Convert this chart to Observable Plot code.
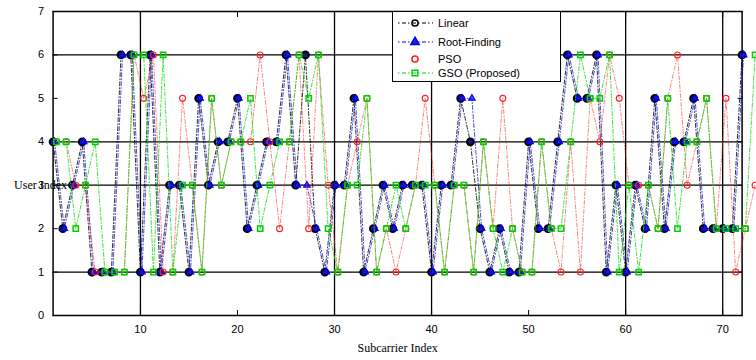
<!DOCTYPE html>
<html><head><meta charset="utf-8">
<script src="https://cdn.jsdelivr.net/npm/d3@7"></script>
<script src="https://cdn.jsdelivr.net/npm/@observablehq/plot@0.6"></script>
<style>
body{margin:0;background:#fff;}
#wrap{position:relative;width:756px;height:360px;}
#legend{position:absolute;left:392px;top:11px;width:169px;height:71px;border:1.5px solid #000;background:#fff;box-sizing:border-box;font-family:"Liberation Sans",Arial,sans-serif;font-size:11px;color:#000;}
</style></head><body><div id="wrap"></div>
<script>
const subcarriers = d3.range(1, 73);
const subcarriersExt = d3.range(1, 74);
const xTicks = [10, 20, 30, 40, 50, 60, 70];
const yTicks = [0, 1, 2, 3, 4, 5, 6, 7];
const xGrid = [10, 30, 40, 60, 70];
const yGrid = [1, 3, 4, 6];
const seriesNames = ["Linear", "Root-Finding", "PSO", "GSO (Proposed)"];

const linear = [4,2,3,4,1,1,1,6,6,1, 6,1,3,3,1,5,3,4,4,5, 2,3,4,4,6,3,6,2,1,3, 3,5,1,2,3,2,3,3,3,1, 3,3,5,4,2,1,2,1,1,4, 2,2,4,6,5,5,6,1,3,1, 3,2,5,2,4,4,5,2,2,2, 2,6];
const rootFinding = [4,2,3,4,1,1,1,6,6,1, 6,1,3,3,1,5,3,4,4,5, 2,3,4,4,6,3,3,2,1,3, 3,5,1,2,3,2,3,3,3,1, 3,3,5,5,2,1,2,1,1,4, 2,2,4,6,5,5,6,1,3,1, 3,2,5,2,4,4,5,2,2,2, 2,6];
const pso = [4,4,3,3,1,1,1,1,6,5, 6,1,1,5,3,1,5,3,4,4, 4,6,4,2,4,6,2,6,3,1, 3,4,5,1,2,1,2,3,5,3, 1,3,3,1,4,2,5,2,1,1, 4,2,1,4,1,5,4,6,5,3, 3,3,2,5,6,3,4,5,2,5, 1,2,3];
const gso = [4,4,2,3,4,1,1,1,6,6, 1,6,1,3,3,1,5,3,4,4, 5,2,3,4,4,6,5,6,2,1, 3,3,5,1,2,3,2,3,3,3, 1,3,3,1,4,2,1,2,1,1, 4,2,2,4,6,5,5,6,1,3, 1,3,2,5,2,4,4,5,2,2, 2,2,6];

const rows = (name, xs, ys) => ys.map((v, i) => ({series: name, k: xs[i], user: v}));
const dLinear = rows(seriesNames[0], subcarriers, linear);
const dRoot = rows(seriesNames[1], subcarriers, rootFinding);
const dPso = rows(seriesNames[2], subcarriersExt, pso);
const dGso = rows(seriesNames[3], subcarriersExt, gso);

const dash = "4,2,1,2";
const chart = Plot.plot({
  width: 756, height: 360,
  marginLeft: 52.6, marginRight: 14.4, marginTop: 11, marginBottom: 45,
  x: {domain: [1, 72]},
  y: {domain: [0, 7]},
  style: {fontFamily: "Liberation Sans, Arial, sans-serif", fontSize: "11px", color: "#000", background: "#fff", overflow: "visible"},
  marks: [
    Plot.ruleX(xGrid, {stroke: "#000", strokeWidth: 1.3}),
    Plot.ruleY(yGrid, {stroke: "#000", strokeWidth: 1.3}),
    Plot.frame({stroke: "#000", strokeWidth: 1.5}),
    Plot.axisX(xTicks, {tickSize: 0, tickPadding: 10, label: null, fill: "#000"}),
    Plot.axisX(xTicks, {tickSize: -5, tickFormat: () => "", label: null}),
    Plot.axisX(xTicks, {anchor: "top", tickSize: -5, tickFormat: () => "", label: null}),
    Plot.axisY(yTicks, {tickSize: 0, tickPadding: 9, label: null, fill: "#000"}),
    Plot.axisY(yTicks, {tickSize: -5, tickFormat: () => "", label: null}),
    Plot.axisY(yTicks, {anchor: "right", tickSize: -5, tickFormat: () => "", label: null}),
    Plot.line(dLinear, {x: "k", y: "user", stroke: "#000", strokeWidth: 1, strokeDasharray: dash, strokeOpacity: 0.8}),
    Plot.dot(dLinear, {x: "k", y: "user", r: 3.4, stroke: "#000", strokeWidth: 2, fill: "#1a1a80"}),
    Plot.line(dRoot, {x: "k", y: "user", dx: 1.5, stroke: "#1010d0", strokeWidth: 1, strokeDasharray: dash, strokeOpacity: 0.75}),
    Plot.dot(dRoot, {x: "k", y: "user", dx: 1.5, symbol: "triangle", r: 2.4, stroke: "#0000ff", strokeWidth: 1.2, fill: "#2020c0", fillOpacity: 0.7}),
    Plot.line(dPso, {x: "k", y: "user", dx: 3.3, stroke: "#ff2020", strokeWidth: 1, strokeDasharray: dash, strokeOpacity: 0.55}),
    Plot.dot(dPso, {x: "k", y: "user", dx: 3.3, r: 3, stroke: "#ff2020", strokeWidth: 1.1, fill: "none"}),
    Plot.line(dGso, {x: "k", y: "user", dx: 3.3, stroke: "#10e010", strokeWidth: 1, strokeDasharray: dash, strokeOpacity: 0.8}),
    Plot.dot(dGso, {x: "k", y: "user", dx: 3.3, symbol: "square", r: 3, stroke: "#00d000", strokeWidth: 1.5, fill: "none"}),
    Plot.text(["Subcarrier Index"], {frameAnchor: "bottom", dy: 36, fontFamily: "Liberation Serif, serif", fontSize: 12, fill: "#000"}),
    Plot.text(["User Index"], {y: () => 3, frameAnchor: "left", dx: -39, textAnchor: "start", fontFamily: "Liberation Serif, serif", fontSize: 12, fill: "#000"})
  ]
});
const wrap = document.getElementById("wrap");
wrap.appendChild(chart);

// legend
const legend = document.createElement("div");
legend.id = "legend";
const legendItems = [
  {name: seriesNames[0], stroke: "#000", symbol: "circle", mstroke: "#000", fill: "none", line: true},
  {name: seriesNames[1], stroke: "#0000ff", symbol: "triangle", mstroke: "#0000ff", fill: "#2020c0", line: true},
  {name: seriesNames[2], stroke: "#ff2020", symbol: "circle", mstroke: "#ff2020", fill: "none", line: false},
  {name: seriesNames[3], stroke: "#00d000", symbol: "square", mstroke: "#00d000", fill: "none", line: true}
];
const rowY = [11, 30, 47, 61];
const ns = "http://www.w3.org/2000/svg";
const lsvg = document.createElementNS(ns, "svg");
lsvg.setAttribute("width", 166); lsvg.setAttribute("height", 68);
lsvg.style.position = "absolute"; lsvg.style.left = "0"; lsvg.style.top = "0";
legendItems.forEach((it, i) => {
  const y = rowY[i];
  if (it.line) {
    const l = document.createElementNS(ns, "line");
    l.setAttribute("x1", 5); l.setAttribute("x2", 40); l.setAttribute("y1", y); l.setAttribute("y2", y);
    l.setAttribute("stroke", it.stroke); l.setAttribute("stroke-dasharray", "1.5,2.5,4,2"); l.setAttribute("stroke-width", 1.2);
    lsvg.appendChild(l);
  }
  const sym = it.symbol === "circle" ? d3.symbolCircle : it.symbol === "triangle" ? d3.symbolTriangle : d3.symbolSquare;
  const p = document.createElementNS(ns, "path");
  p.setAttribute("d", d3.symbol(sym, it.symbol === "square" ? 32 : 30)());
  p.setAttribute("transform", `translate(22,${y})`);
  p.setAttribute("stroke", it.mstroke); p.setAttribute("fill", it.fill); p.setAttribute("stroke-width", 1.5);
  lsvg.appendChild(p);
  const t = document.createElementNS(ns, "text");
  t.setAttribute("x", 45); t.setAttribute("y", y); t.setAttribute("dy", "0.35em");
  t.setAttribute("font-size", 11); t.setAttribute("font-family", "Liberation Sans, Arial, sans-serif");
  t.textContent = it.name;
  lsvg.appendChild(t);
});
legend.appendChild(lsvg);
wrap.appendChild(legend);
</script></body></html>
